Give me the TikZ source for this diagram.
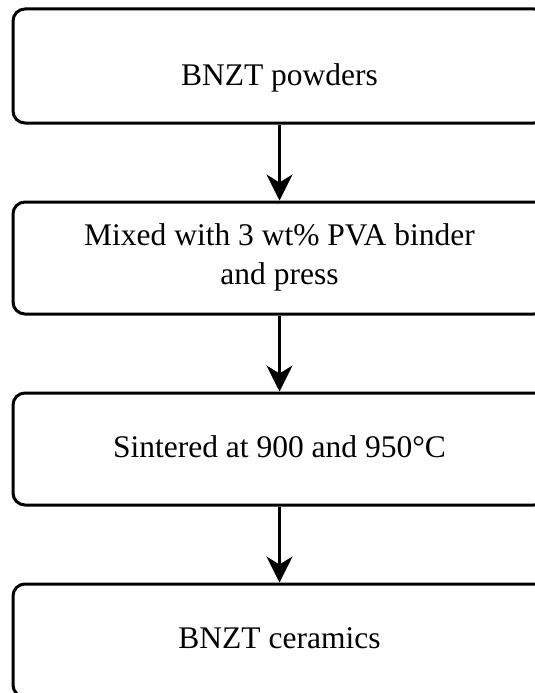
\documentclass[tikz,border=0pt]{standalone}
\usepackage{fontspec}
\setmainfont{Liberation Serif}
\usetikzlibrary{arrows.meta,positioning}

\begin{document}
\begin{tikzpicture}[x=1pt, y=1pt, node distance=76pt,
  flowbox/.style={draw, line width=3pt, rounded corners=12pt, minimum width=533pt,
    minimum height=112pt, inner sep=0pt},
  flowtext/.style={anchor=base, align=center, inner sep=0pt,
    font=\fontsize{31.5}{39}\selectfont},
  flowarrow/.style={-{Stealth[length=26pt, width=26pt, inset=8pt]}, line width=2.5pt}]
  \useasboundingbox (0,0) rectangle (535,-693);
  \clip (0,0) rectangle (535,-693);
  \node[flowbox, minimum height=114pt] (b1) at (279.5,-66) {};
  \node[flowbox, below=of b1] (b2) {};
  \node[flowbox, below=of b2] (b3) {};
  \node[flowbox, minimum height=113pt, below=of b3] (b4) {};
  \node[flowtext] (t1) at (279.5,-85) {BNZT powders};
  \node[flowtext] (t2) at (279.5,-284) {Mixed with 3 wt\% PVA binder\\and press};
  \node[flowtext] (t3) at (279.5,-457) {Sintered at 900 and 950°C};
  \node[flowtext] (t4) at (279.5,-648) {BNZT ceramics};
  \draw[flowarrow] (b1) -- (b2);
  \draw[flowarrow] (b2) -- (b3);
  \draw[flowarrow] (b3) -- (b4);
\end{tikzpicture}
\end{document}
